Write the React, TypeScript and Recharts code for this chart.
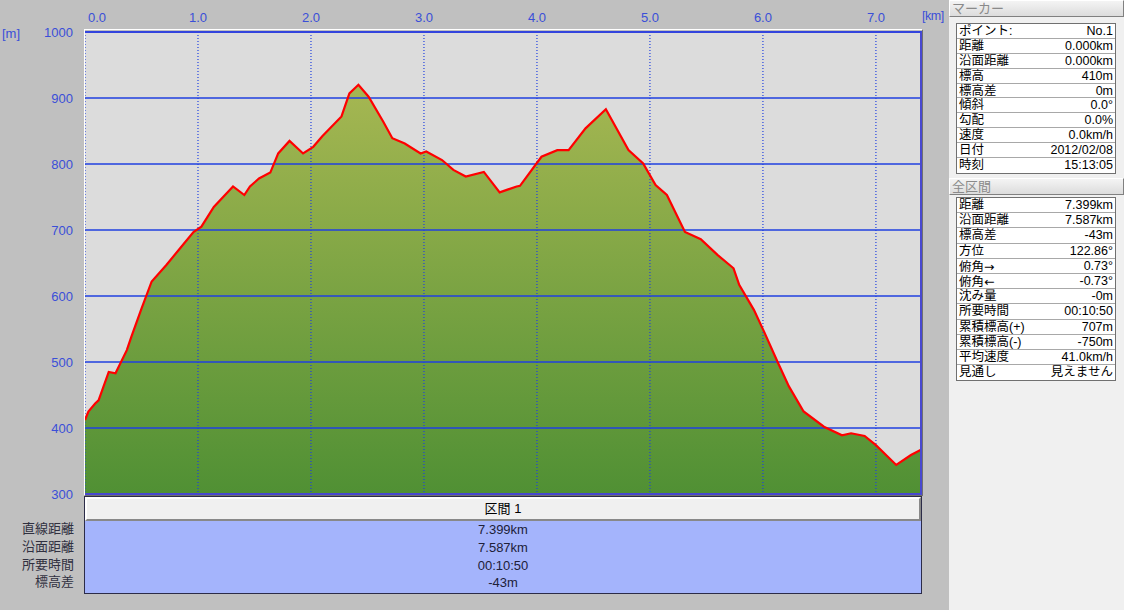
import React from 'react'
import { ComposedChart, Area, Line, XAxis, YAxis, CartesianGrid, ReferenceLine } from 'recharts'

// distance along the route [km]
const DIST = [
  0, 0.03, 0.09, 0.12, 0.21, 0.27, 0.37, 0.41, 0.5, 0.59, 0.72, 0.84, 0.96, 1.03, 1.14, 1.31, 1.41, 1.46,
  1.54, 1.64, 1.71, 1.81, 1.93, 2.02, 2.1, 2.27, 2.34, 2.42, 2.51, 2.64, 2.72, 2.83, 2.97, 3.02, 3.16,
  3.26, 3.37, 3.53, 3.67, 3.82, 3.85, 4.04, 4.18, 4.28, 4.43, 4.61, 4.81, 4.94, 5.05, 5.15, 5.31, 5.45,
  5.6, 5.74, 5.79, 5.92, 6.01, 6.13, 6.23, 6.36, 6.54, 6.7, 6.78, 6.9, 7.0, 7.18, 7.31, 7.399,
]
// elevation [m]
const ELEV = [
  412, 425, 437, 442, 485, 483, 518, 538, 581, 622, 647, 672, 697, 705, 735, 766, 753, 766,
  778, 787, 816, 835, 816, 826, 842, 872, 907, 920, 902, 864, 839, 831, 816, 819, 806,
  791, 781, 788, 757, 766, 767, 811, 821, 821, 854, 883, 821, 801, 768, 753, 697, 686,
  662, 642, 617, 579, 546, 500, 463, 425, 402, 389, 392, 388, 374, 344, 359, 367,
]
const X_TICKS = [0, 1, 2, 3, 4, 5, 6, 7]
const Y_TICKS = [300, 400, 500, 600, 700, 800, 900, 1000]

const MARKER_ROWS = [
  ['ポイント:', 'No.1'],
  ['距離', '0.000km'],
  ['沿面距離', '0.000km'],
  ['標高', '410m'],
  ['標高差', '0m'],
  ['傾斜', '0.0°'],
  ['勾配', '0.0%'],
  ['速度', '0.0km/h'],
  ['日付', '2012/02/08'],
  ['時刻', '15:13:05'],
]
const TOTAL_ROWS = [
  ['距離', '7.399km'],
  ['沿面距離', '7.587km'],
  ['標高差', '-43m'],
  ['方位', '122.86°'],
  ['俯角→', '0.73°'],
  ['俯角←', '-0.73°'],
  ['沈み量', '-0m'],
  ['所要時間', '00:10:50'],
  ['累積標高(+)', '707m'],
  ['累積標高(-)', '-750m'],
  ['平均速度', '41.0km/h'],
  ['見通し', '見えません'],
]
const SECTION_LABELS = ['直線距離', '沿面距離', '所要時間', '標高差']
const SECTION_VALUES = ['7.399km', '7.587km', '00:10:50', '-43m']

// Latin primary font keeps the text boxes short; CJK glyphs fall back to Noto
const FONT = '"Liberation Sans", "Noto Sans CJK JP", sans-serif'
const AXIS_BLUE = '#3a4fd8'
const GRID_BLUE = '#2040e0'

const data = DIST.map((d, i) => ({ dist: d, elev: ELEV[i] }))

const XTick = (props: any) => {
  const { x, y, payload } = props
  const px = payload.value === 0 ? x + 12 : x
  return (
    <text x={px} y={y - 10} textAnchor="middle" fill={AXIS_BLUE} fontSize={13} fontFamily={FONT}>
      {Number(payload.value).toFixed(1)}
    </text>
  )
}

// a text cell whose box is exactly one row tall; arrows get a font with full-size glyphs
function Cell({ text, h }: { text: string; h: number }) {
  const parts = text.split(/([→←])/).filter(Boolean)
  return (
    <span style={{ display: 'inline-block', height: h, lineHeight: `${h}px`, whiteSpace: 'nowrap' }}>
      {parts.map((p, i) =>
        p === '→' || p === '←' ? (
          <span key={i} style={{ fontFamily: '"DejaVu Sans"' }}>{p}</span>
        ) : (
          p
        )
      )}
    </span>
  )
}

function InfoTable({ rows, top, rowH }: { rows: string[][]; top: number; rowH: number }) {
  return (
    <div
      style={{
        position: 'absolute', left: 956, top, width: 160, background: '#fff',
        border: '1px solid #707070', boxSizing: 'border-box',
      }}
    >
      {rows.map(([k, v], i) => (
        <div
          key={k}
          style={{
            height: rowH, display: 'flex', justifyContent: 'space-between', alignItems: 'flex-start',
            borderBottom: i < rows.length - 1 ? '1px solid #a8a8a8' : 'none', boxSizing: 'border-box',
            padding: '1px 2px 0', fontSize: 12.5, color: '#000',
          }}
        >
          <Cell text={k} h={rowH - 2} />
          <Cell text={v} h={rowH - 2} />
        </div>
      ))}
    </div>
  )
}

function PanelHeader({ text, top }: { text: string; top: number }) {
  return (
    <div
      style={{
        position: 'absolute', left: 949, top, width: 175, height: 17, boxSizing: 'border-box',
        background: 'linear-gradient(#f4f4f4, #dcdcdc)', borderTop: '1px solid #fff', borderLeft: '1px solid #fff',
        borderRight: '1px solid #808080', borderBottom: '1px solid #808080',
        fontSize: 13, color: '#8a8a8a', paddingLeft: 2,
      }}
    >
      <Cell text={text} h={15} />
    </div>
  )
}

export default function App() {
  return (
    <div
      style={{
        position: 'absolute', left: 0, top: 0, width: 1124, height: 610, background: '#c0c0c0',
        fontFamily: FONT, overflow: 'hidden',
      }}
    >
      <ComposedChart
        width={1124}
        height={610}
        data={data}
        margin={{ top: 2, right: 203, bottom: 116, left: 25 }}
      >
        <defs>
          <linearGradient id="elevFill" x1="0" y1="0" x2="0" y2="1">
            <stop offset="0%" stopColor="#a6b752" />
            <stop offset="100%" stopColor="#509034" />
          </linearGradient>
        </defs>
        <XAxis
          dataKey="dist"
          type="number"
          orientation="top"
          domain={[0, 7.399]}
          ticks={X_TICKS}
          height={30}
          axisLine={false}
          tickLine={false}
          tickSize={0}
          tickMargin={0}
          tick={<XTick />}
          allowDataOverflow
        />
        <YAxis
          type="number"
          domain={[300, 1000]}
          ticks={Y_TICKS}
          width={60}
          axisLine={false}
          tickLine={false}
          tickSize={0}
          tickMargin={12}
          tick={{ fill: AXIS_BLUE, fontSize: 13, fontFamily: FONT }}
          allowDataOverflow
        />
        <CartesianGrid fill="#dcdcdc" stroke="none" horizontal={false} vertical={false} />
        <Area
          dataKey="elev"
          type="linear"
          baseValue={300}
          stroke="none"
          fill="url(#elevFill)"
          fillOpacity={1}
          isAnimationActive={false}
          dot={false}
          activeDot={false}
        />
        {Y_TICKS.map((t) => (
          <ReferenceLine key={`h${t}`} y={t} stroke={GRID_BLUE} strokeWidth={1.4} />
        ))}
        {X_TICKS.map((t) => (
          <ReferenceLine key={`v${t}`} x={t} stroke={GRID_BLUE} strokeWidth={1.2} strokeDasharray="1 2" />
        ))}
        <Line
          dataKey="elev"
          type="linear"
          stroke="#ff0000"
          strokeWidth={2.2}
          dot={false}
          activeDot={false}
          isAnimationActive={false}
        />
      </ComposedChart>

      {/* plot frame */}
      <div
        style={{
          position: 'absolute', left: 84, top: 29, width: 839, height: 467, boxSizing: 'border-box',
          borderTop: '1px solid #fff', borderLeft: '1px solid #fff',
          borderRight: '1px solid #707070', borderBottom: '1px solid #707070', pointerEvents: 'none',
        }}
      >
        <div
          style={{
            position: 'absolute', left: 0, top: 1, right: 0, bottom: 0, boxSizing: 'border-box',
            borderTop: '2px solid #3344dd', borderRight: '2px solid #4848d0', borderBottom: '2px solid #4848d0',
          }}
        />
      </div>

      {/* axis units */}
      <div style={{ position: 'absolute', left: 2, top: 26, fontSize: 13, color: AXIS_BLUE }}>
        <Cell text="[m]" h={15} />
      </div>
      <div style={{ position: 'absolute', left: 922, top: 9, fontSize: 12.5, color: AXIS_BLUE, letterSpacing: -0.5 }}>
        <Cell text="[km]" h={15} />
      </div>

      {/* section table */}
      <div
        style={{
          position: 'absolute', left: 84, top: 496, width: 838, height: 98, boxSizing: 'border-box',
          border: '1px solid #2c2c48', background: '#a4b4fc',
        }}
      >
        <div
          style={{
            height: 24, boxSizing: 'border-box', background: '#f0f0f0',
            borderTop: '2px solid #fff', borderLeft: '2px solid #fff',
            borderRight: '2px solid #888', borderBottom: '2px solid #888',
            textAlign: 'center', fontSize: 13, color: '#000',
          }}
        >
          <Cell text="区間 1" h={20} />
        </div>
        {SECTION_VALUES.map((v, i) => (
          <div
            key={i}
            style={{
              position: 'absolute', left: 0, right: 0, top: 24 + i * 17.8, height: 17.8,
              textAlign: 'center', fontSize: 13, color: '#202038',
            }}
          >
            <Cell text={v} h={17.8} />
          </div>
        ))}
      </div>
      {SECTION_LABELS.map((t, i) => (
        <div
          key={t}
          style={{
            position: 'absolute', right: 1124 - 74, top: 520 + i * 17.8, height: 17.8,
            fontSize: 13, color: '#303040',
          }}
        >
          <Cell text={t} h={17.8} />
        </div>
      ))}

      {/* right panel */}
      <div style={{ position: 'absolute', left: 949, top: 0, width: 175, height: 610, background: '#f0f0f0' }} />
      <PanelHeader text="マーカー" top={0} />
      <InfoTable rows={MARKER_ROWS} top={23} rowH={14.9} />
      <PanelHeader text="全区間" top={178} />
      <InfoTable rows={TOTAL_ROWS} top={197} rowH={15.2} />
    </div>
  )
}
